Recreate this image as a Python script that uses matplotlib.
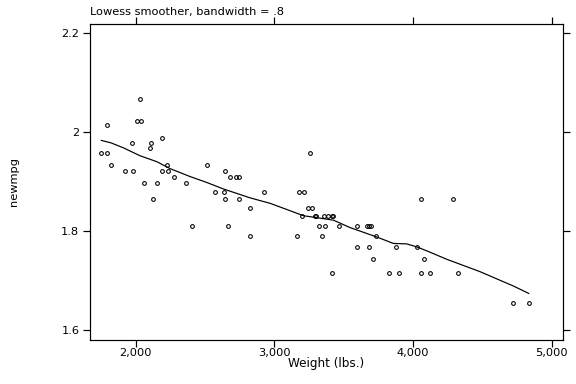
import matplotlib
matplotlib.use("Agg")
import matplotlib.pyplot as plt
from matplotlib.ticker import FuncFormatter

plt.rcParams['font.family'] = ['DejaVu Sans']

# scatter points (weight in lbs, newmpg)
weight = [2030, 1792, 2009, 2037, 2191, 1970, 2108, 2102, 1751, 1792,
          1821, 2225, 2512, 1922, 1980, 2191, 2232, 2644, 2273, 2680,
          2721, 2745, 2059, 2153, 2362, 2569, 2634, 2923, 2124, 2644,
          2745, 2824, 2405, 2665, 2824, 3256, 3175, 3214, 4056, 3240,
          3269, 3199, 3293, 3300, 3357, 3386, 3415, 3422, 3322, 3365,
          3466, 3594, 3666, 3680, 3695, 3163, 3343, 3731, 3594, 3680,
          3875, 4029, 3714, 4077, 3413, 3825, 3897, 4056, 4121, 4286,
          4322, 4719, 4835]
newmpg = [2.067, 2.015, 2.023, 2.023, 1.988, 1.978, 1.978, 1.968, 1.958, 1.958,
          1.934, 1.934, 1.934, 1.922, 1.922, 1.922, 1.922, 1.922, 1.910, 1.910,
          1.910, 1.910, 1.896, 1.896, 1.896, 1.879, 1.879, 1.879, 1.865, 1.865,
          1.865, 1.847, 1.811, 1.811, 1.790, 1.958, 1.879, 1.879, 1.865, 1.847,
          1.847, 1.831, 1.831, 1.831, 1.831, 1.831, 1.831, 1.831, 1.811, 1.811,
          1.811, 1.811, 1.811, 1.811, 1.811, 1.790, 1.790, 1.790, 1.768, 1.768,
          1.768, 1.768, 1.743, 1.743, 1.716, 1.716, 1.716, 1.716, 1.716, 1.865,
          1.716, 1.655, 1.655]

# lowess curve vertices
smooth_w = [1751, 1821, 1910, 2030, 2151, 2247, 2391, 2512, 2631, 2824,
            2968, 3113, 3208, 3425, 3545, 3738, 3858, 3955, 4027, 4099,
            4243, 4483, 4724, 4835]
smooth_v = [1.983, 1.978, 1.968, 1.952, 1.940, 1.926, 1.910, 1.898, 1.885, 1.867,
            1.856, 1.841, 1.831, 1.822, 1.807, 1.788, 1.775, 1.774, 1.768, 1.760,
            1.743, 1.718, 1.689, 1.674]

xticks = [2000, 3000, 4000, 5000]
yticks = [1.6, 1.8, 2.0, 2.2]

fig = plt.figure(figsize=(6, 4), dpi=96)
ax = fig.add_axes([90/576, 1-340/384, 473/576, 316/384])

ax.plot(weight, newmpg, 'o', ms=2.8, mfc='none', mec='black', mew=0.8)
ax.plot(smooth_w, smooth_v, '-', color='black', lw=0.9)

ax.set_xlim(1669, 5082)
ax.set_ylim(1.580, 2.218)

ax.set_xticks(xticks)
ax.set_yticks(yticks)
ax.xaxis.set_major_formatter(FuncFormatter(lambda v, p: f"{int(v):,}"))
ax.yaxis.set_major_formatter(FuncFormatter(lambda v, p: f"{v:g}"))
ax.tick_params(direction='out', length=5, width=0.9, labelsize=8.5,
               top=True, right=True, labeltop=False, labelright=False, pad=1)
ax.tick_params(axis='y', pad=3)
for s in ax.spines.values():
    s.set_linewidth(0.9)

ax.set_xlabel('Weight (lbs.)', fontsize=9, labelpad=-1)
ax.set_ylabel('newmpg', fontsize=8.5)
ax.yaxis.set_label_coords(-0.15, 0.5)
ax.set_title('Lowess smoother, bandwidth = .8', fontsize=8.5, loc='left', pad=7)

fig.savefig('out.png', dpi=96)
